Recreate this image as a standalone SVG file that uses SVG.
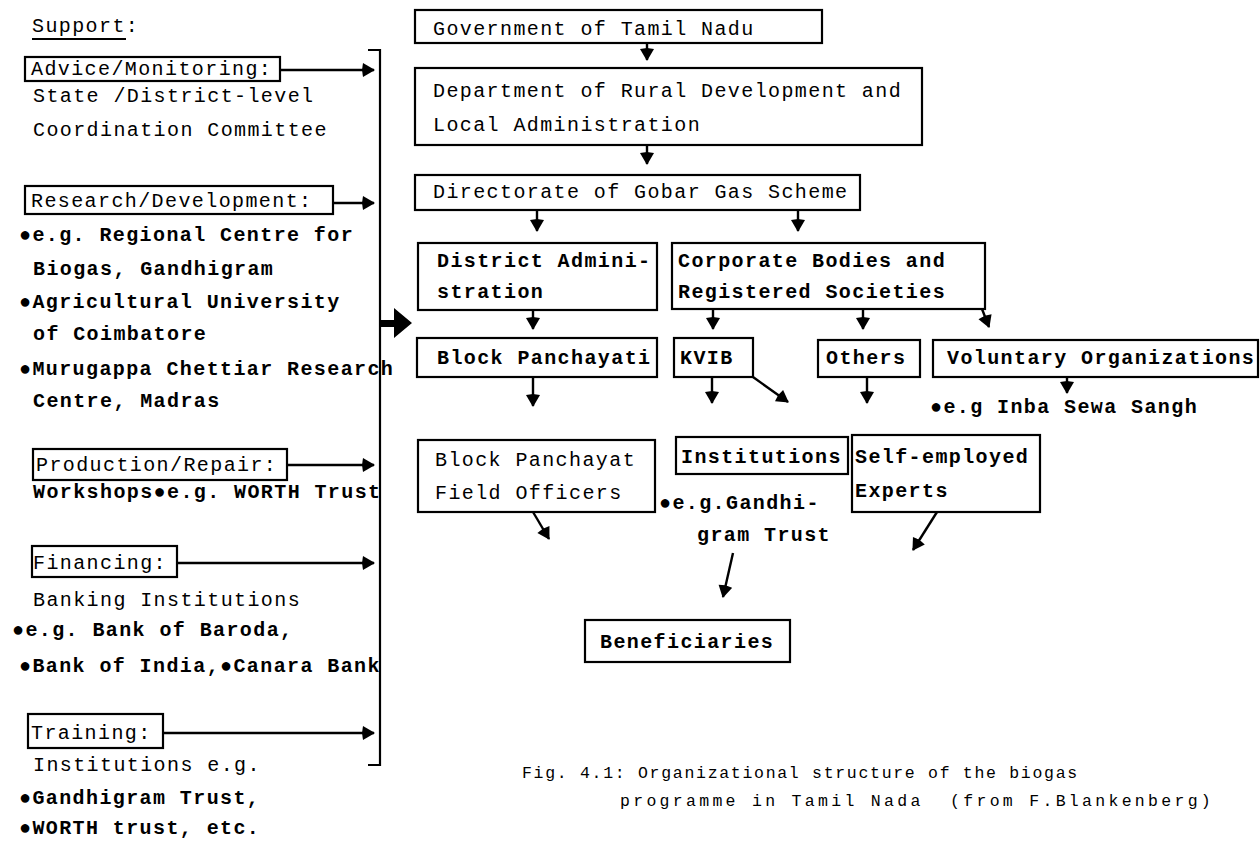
<svg xmlns="http://www.w3.org/2000/svg" width="1260" height="842" viewBox="0 0 1260 842">
<style>
.t{font-family:"Liberation Mono","DejaVu Sans Mono",monospace;font-size:20px;letter-spacing:1.4px;fill:#000}
.b{font-weight:bold}
.cap{font-size:16.5px;letter-spacing:1.7px}
.cap2{font-size:16.5px;letter-spacing:3.3px}
.box{fill:#fff;stroke:#000;stroke-width:2.2}
.ln{stroke:#000;stroke-width:2.2;fill:none}
.arr{stroke:#000;stroke-width:2.4;fill:none;marker-end:url(#ah)}
</style>
<defs>
<marker id="ah" markerUnits="userSpaceOnUse" markerWidth="16" markerHeight="16" refX="12" refY="7" orient="auto">
<path d="M1,0 L13,7 L1,14 L0,7 Z" fill="#000"/>
</marker>
</defs>
<rect width="1260" height="842" fill="#fff"/>

<g id="connectors">
<path class="ln" d="M368,50 L380,50 L380,765 L368,765"/>
<path class="arr" d="M280,70 L374,70"/>
<path class="arr" d="M333,203 L374,203"/>
<path class="arr" d="M287,465 L374,465"/>
<path class="arr" d="M177,563 L374,563"/>
<path class="arr" d="M163,733 L374,733"/>
<path d="M380,320 L394,320 L394,308 L412,323 L394,338 L394,327 L380,327 Z" fill="#000"/>
<path class="arr" d="M647,43 L647,60"/>
<path class="arr" d="M647,145 L647,164"/>
<path class="arr" d="M537,210 L537,231"/>
<path class="arr" d="M798,210 L798,231"/>
<path class="arr" d="M533,310 L533,329"/>
<path class="arr" d="M713,309 L713,329"/>
<path class="arr" d="M863,309 L863,329"/>
<path class="arr" d="M982,309 L989,327"/>
<path class="arr" d="M533,377 L533,406"/>
<path class="arr" d="M712,377 L712,403"/>
<path class="arr" d="M753,377 L788,402"/>
<path class="arr" d="M867,377 L867,403"/>
<path class="arr" d="M1067,377 L1067,393"/>
<path class="arr" d="M533,512 L549,539"/>
<path class="arr" d="M733,553 L723,597"/>
<path class="arr" d="M937,512 L913,550"/>
</g>

<g id="support-title">
<text class="t" x="32" y="32">Support:</text>
<path class="ln" d="M32,39 L126,39" stroke-width="1.8"/>
</g>

<g id="advice">
<rect class="box" x="25" y="57" width="255" height="24"/>
<text class="t" x="31" y="75">Advice/Monitoring:</text>
<text class="t" x="33" y="102">State /District-level</text>
<text class="t" x="33" y="136">Coordination Committee</text>
</g>

<g id="research">
<rect class="box" x="25" y="186" width="308" height="28"/>
<text class="t" x="31" y="207">Research/Development:</text>
<text class="t b" x="19" y="241">●e.g. Regional Centre for</text>
<text class="t b" x="33" y="275">Biogas, Gandhigram</text>
<text class="t b" x="19" y="308">●Agricultural University</text>
<text class="t b" x="33" y="340">of Coimbatore</text>
<text class="t b" x="19" y="375">●Murugappa Chettiar Research</text>
<text class="t b" x="33" y="407">Centre, Madras</text>
</g>

<g id="production">
<rect class="box" x="33" y="449" width="254" height="31"/>
<text class="t" x="36" y="471">Production/Repair:</text>
<text class="t b" x="33" y="498">Workshops●e.g. WORTH Trust</text>
</g>

<g id="financing">
<rect class="box" x="32" y="546" width="145" height="31"/>
<text class="t" x="33" y="569">Financing:</text>
<text class="t" x="33" y="606">Banking Institutions</text>
<text class="t b" x="12" y="636">●e.g. Bank of Baroda,</text>
<text class="t b" x="19" y="672">●Bank of India,●Canara Bank</text>
</g>

<g id="training">
<rect class="box" x="28" y="714" width="135" height="34"/>
<text class="t" x="31" y="739">Training:</text>
<text class="t" x="33" y="771">Institutions e.g.</text>
<text class="t b" x="19" y="804">●Gandhigram Trust,</text>
<text class="t b" x="19" y="834">●WORTH trust, etc.</text>
</g>

<g id="gov">
<rect class="box" x="415" y="10" width="407" height="33"/>
<text class="t" x="433" y="35">Government of Tamil Nadu</text>
</g>

<g id="dept">
<rect class="box" x="415" y="68" width="507" height="77"/>
<text class="t" x="433" y="97">Department of Rural Development and</text>
<text class="t" x="433" y="131">Local Administration</text>
</g>

<g id="directorate">
<rect class="box" x="415" y="175" width="445" height="35"/>
<text class="t" x="433" y="198">Directorate of Gobar Gas Scheme</text>
</g>

<g id="district">
<rect class="box" x="418" y="243" width="239" height="67"/>
<text class="t b" x="437" y="267">District Admini-</text>
<text class="t b" x="437" y="298">stration</text>
</g>

<g id="corporate">
<rect class="box" x="672" y="243" width="313" height="66"/>
<text class="t b" x="678" y="267">Corporate Bodies and</text>
<text class="t b" x="678" y="298">Registered Societies</text>
</g>

<g id="block-panchayati">
<rect class="box" x="417" y="338" width="240" height="39"/>
<text class="t b" x="437" y="364">Block Panchayati</text>
</g>

<g id="kvib">
<rect class="box" x="674" y="338" width="79" height="39"/>
<text class="t b" x="680" y="364">KVIB</text>
</g>

<g id="others">
<rect class="box" x="818" y="340" width="102" height="37"/>
<text class="t b" x="826" y="364">Others</text>
</g>

<g id="voluntary">
<rect class="box" x="933" y="340" width="325" height="37"/>
<text class="t b" x="947" y="364">Voluntary Organizations</text>
<text class="t b" x="930" y="413">●e.g Inba Sewa Sangh</text>
</g>

<g id="bp-field">
<rect class="box" x="418" y="440" width="237" height="72"/>
<text class="t" x="435" y="466">Block Panchayat</text>
<text class="t" x="435" y="499">Field Officers</text>
</g>

<g id="institutions">
<rect class="box" x="676" y="437" width="172" height="37"/>
<text class="t b" x="681" y="463">Institutions</text>
<text class="t b" x="659" y="509">●e.g.Gandhi-</text>
<text class="t b" x="697" y="541">gram Trust</text>
</g>

<g id="self-employed">
<rect class="box" x="852" y="435" width="188" height="77"/>
<text class="t b" x="855" y="463">Self-employed</text>
<text class="t b" x="855" y="497">Experts</text>
</g>

<g id="beneficiaries">
<rect class="box" x="585" y="620" width="205" height="42"/>
<text class="t b" x="600" y="648">Beneficiaries</text>
</g>

<g id="caption">
<text class="t cap" x="522" y="778">Fig. 4.1: Organizational structure of the biogas</text>
<text class="t cap2" x="620" y="806" xml:space="preserve">programme in Tamil Nada  (from F.Blankenberg)</text>
</g>
</svg>
